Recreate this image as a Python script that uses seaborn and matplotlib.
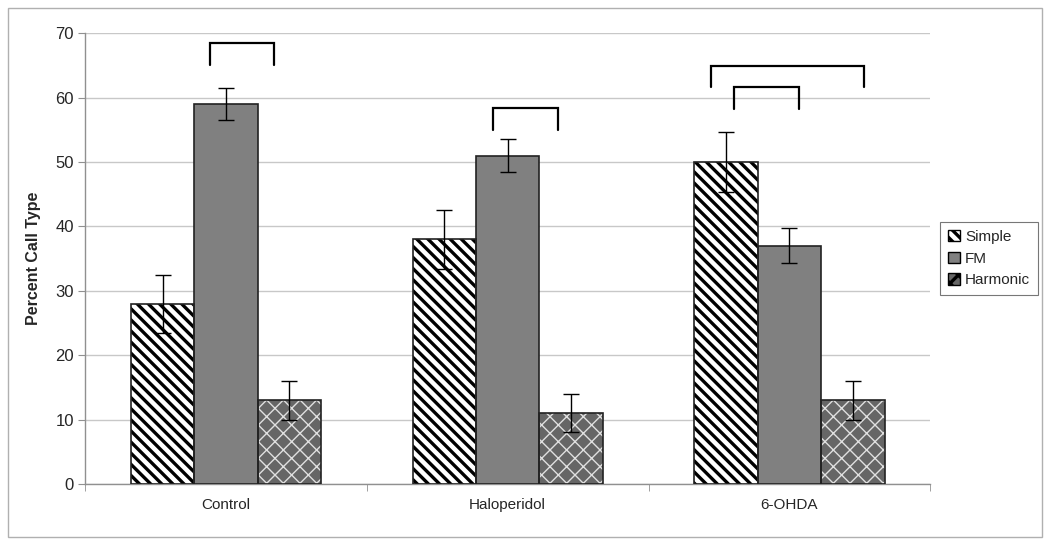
import numpy as np
import pandas as pd
import matplotlib
matplotlib.use('Agg')
import matplotlib.pyplot as plt
import seaborn as sns
from matplotlib.patches import Rectangle, Patch

groups = ['Control', 'Haloperidol', '6-OHDA']
call_types = ['Simple', 'FM', 'Harmonic']
simple = [28, 38, 50]
fm = [59, 51, 37]
harmonic = [13, 11, 13]
simple_err = [4.5, 4.6, 4.6]
fm_err = [2.5, 2.6, 2.7]
harmonic_err = [3.0, 3.0, 3.0]

# significance brackets: (group index, x offset left, x offset right, top y, leg bottom y)
brackets = [
    (0, -0.057, 0.170, 68.5, 65.1),
    (1, -0.053, 0.177, 58.4, 55.0),
    (2, -0.277, 0.266, 64.9, 61.6),
    (2, -0.195, 0.035, 61.6, 58.2),
]

df = pd.DataFrame({
    'group': groups * 3,
    'type': [t for t in call_types for _ in groups],
    'value': simple + fm + harmonic,
})
errs = [simple_err, fm_err, harmonic_err]

sns.set_style('white')
plt.rcParams['font.family'] = ['Liberation Sans', 'DejaVu Sans']
plt.rcParams['hatch.linewidth'] = 2.4

fig = plt.figure(figsize=(10.5, 5.45), dpi=100)
fig.patches.append(Rectangle((0.008, 0.015), 0.984, 0.97, transform=fig.transFigure,
                             fill=False, edgecolor='#b0b0b0', lw=1))
ax = fig.add_axes([0.081, 0.112, 0.805, 0.827])

sns.barplot(data=df, x='group', y='value', hue='type', order=groups, hue_order=call_types,
            width=0.675, errorbar=None, ax=ax, legend=False,
            palette=['white', '#808080', '#6a6a6a'], edgecolor='black', linewidth=1)

# facecolor, hatch, hatch colour, hatch linewidth
styles = [('white', '\\\\\\', 'black', 2.4), ('#808080', '', 'black', 1),
          ('#666666', 'xx', '#e0e0e0', 1.0)]
handles = []
for cont, err, (fc, hatch, hc, hlw), name in zip(ax.containers, errs, styles, call_types):
    xs = []
    for p in cont.patches:
        p.set_facecolor(fc)
        p.set_hatch(hatch)
        p.set_edgecolor(hc)
        p.set_linewidth(0)
        if hasattr(p, 'set_hatch_linewidth'):
            p.set_hatch_linewidth(hlw)
        # outline on top
        ax.add_patch(Rectangle((p.get_x(), p.get_y()), p.get_width(), p.get_height(),
                               fill=False, edgecolor='#222222', lw=1.2, zorder=3))
        xs.append(p.get_x() + p.get_width() / 2)
    vals = [p.get_height() for p in cont.patches]
    ax.errorbar(xs, vals, yerr=err, fmt='none', ecolor='black', elinewidth=1,
                capsize=6, capthick=1, zorder=4)
    h = Patch(facecolor=fc, hatch=hatch, edgecolor=hc, lw=0)
    handles.append(h)

for g, x0, x1, ytop, ybot in brackets:
    ax.plot([g + x0, g + x0, g + x1, g + x1], [ybot, ytop, ytop, ybot],
            color='black', lw=1.6, solid_joinstyle='miter', zorder=5)

ax.set_xlim(-0.5, 2.5)
ax.set_ylim(0, 70)
ax.set_yticks(np.arange(0, 71, 10))
ax.yaxis.grid(True, color='#c8c8c8', lw=1)
ax.set_axisbelow(True)
ax.tick_params(axis='y', which='major', length=5, color='#909090', labelsize=12, pad=3,
               left=True)
ax.set_xticks([0, 1, 2])
ax.set_xticklabels(groups)
ax.set_xticks([-0.5, 0.5, 1.5, 2.5], minor=True)
ax.tick_params(axis='x', which='major', length=0, labelsize=11, pad=10)
ax.tick_params(axis='x', which='minor', length=5, color='#909090', bottom=True)
for s in ['top', 'right']:
    ax.spines[s].set_visible(False)
for s in ['left', 'bottom']:
    ax.spines[s].set_color('#909090')
    ax.spines[s].set_linewidth(1)
ax.set_xlabel('')
ax.set_ylabel('Percent Call Type', fontsize=11.5, fontweight='bold', labelpad=10)

leg = ax.legend(handles, call_types, loc='center left', bbox_to_anchor=(1.012, 0.5),
                fancybox=False, frameon=True, edgecolor='#555555', fontsize=11,
                handlelength=0.75, handleheight=0.75, handletextpad=0.35,
                borderpad=0.5, labelspacing=0.5, borderaxespad=0)
leg.get_frame().set_linewidth(0.8)
for h in leg.legend_handles:
    h.set_edgecolor('black')
    h.set_linewidth(1)

fig.savefig('out.png', dpi=100)
